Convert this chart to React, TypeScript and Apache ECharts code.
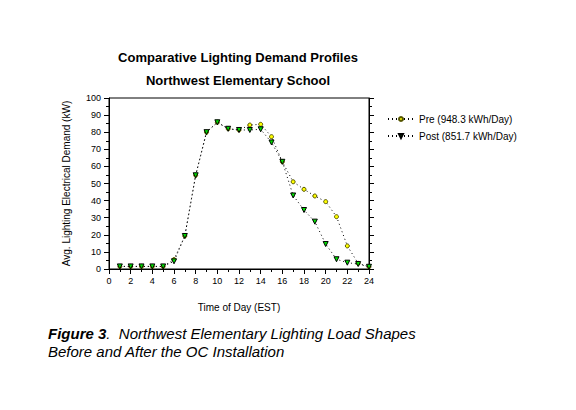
import React, { useEffect, useRef } from "react";
import * as echarts from "echarts";

const hours = [1, 2, 3, 4, 5, 6, 7, 8, 9, 10, 11, 12, 13, 14, 15, 16, 17, 18, 19, 20, 21, 22, 23, 24];
const preValues = [1.5, 1.5, 1.5, 1.5, 1.5, 5.5, 19.3, 54.8, 80, 85.8, 82, 81.3, 84.2, 84.6, 77.4, 62.7, 51, 46.6, 42.7, 39.4, 30.6, 13.5, 3.3, 1.3];
const postValues = [1.5, 1.5, 1.5, 1.5, 1.5, 4.5, 19.3, 54.8, 80, 85.8, 82, 81.3, 81.3, 81.7, 74, 62.7, 43, 34.5, 27.7, 14.6, 5.7, 3.7, 2.9, 1.3];
const seriesNames = ["Pre (948.3 kWh/Day)", "Post (851.7 kWh/Day)"];
const titleLines = ["Comparative Lighting Demand Profiles", "Northwest Elementary School"];
const xTitle = "Time of Day (EST)";
const yTitle = "Avg. Lighting Electrical Demand (kW)";
const captionBold = "Figure 3";
const captionLine1 = ".  Northwest Elementary Lighting Load Shapes";
const captionLine2 = "Before and After the OC Installation";

const FONT = "'Liberation Sans', Arial, sans-serif";

export default function App() {
  const ref = useRef<HTMLDivElement>(null);
  useEffect(() => {
    document.body.style.margin = "0";
    const chart = echarts.init(ref.current!, null, { renderer: "svg" });
    const axisCommon = {
      axisLine: { show: true, lineStyle: { color: "#000", width: 1 } },
      axisTick: { show: true, inside: false, length: 5, lineStyle: { color: "#000" } },
      minorTick: { show: true, splitNumber: 2, length: 3, lineStyle: { color: "#000" } },
      splitLine: { show: false },
    };
    chart.setOption({
      animation: false,
      backgroundColor: "#fff",
      textStyle: { fontFamily: FONT },
      grid: { left: 109, right: 207, top: 98, bottom: 141, show: true, borderColor: "#000", borderWidth: 1 },
      xAxis: {
        type: "value",
        min: 0,
        max: 24,
        interval: 2,
        name: xTitle,
        nameLocation: "middle",
        nameGap: 33,
        nameTextStyle: { fontSize: 10, color: "#000", fontFamily: FONT },
        axisLabel: { fontSize: 9, color: "#000", margin: 7, fontFamily: FONT },
        ...axisCommon,
      },
      yAxis: [
        {
          type: "value",
          min: 0,
          max: 100,
          interval: 10,
          name: yTitle,
          nameLocation: "middle",
          nameGap: 38,
          nameTextStyle: { fontSize: 10, color: "#000", fontFamily: FONT },
          axisLabel: { fontSize: 9, color: "#000", margin: 8, fontFamily: FONT },
          ...axisCommon,
        },
        {
          type: "value",
          position: "right",
          min: 0,
          max: 100,
          interval: 10,
          axisLabel: { show: false },
          ...axisCommon,
        },
      ],
      legend: {
        orient: "vertical",
        left: 382,
        top: 109,
        itemWidth: 26,
        itemHeight: 5,
        itemGap: 7,
        textStyle: { fontSize: 10, color: "#000", fontFamily: FONT },
        data: seriesNames,
      },
      title: [
        { text: titleLines[0], left: 233, top: 46, textAlign: "center", textStyle: { fontSize: 13, fontWeight: "bold", color: "#000", fontFamily: FONT } },
        { text: titleLines[1], left: 233, top: 69, textAlign: "center", textStyle: { fontSize: 13, fontWeight: "bold", color: "#000", fontFamily: FONT } },
      ],
      series: [
        {
          name: seriesNames[0],
          type: "line",
          data: hours.map((h, i) => [h, preValues[i]]),
          symbol: "circle",
          symbolSize: 4,
          lineStyle: { color: "#000", width: 1, type: [1, 3] },
          itemStyle: { color: "#ffff00", borderColor: "#555500", borderWidth: 1 },
          z: 3,
        },
        {
          name: seriesNames[1],
          type: "line",
          data: hours.map((h, i) => [h, postValues[i]]),
          symbol: "triangle",
          symbolRotate: 180,
          symbolSize: 5,
          lineStyle: { color: "#000", width: 1, type: [1, 3] },
          itemStyle: { color: "#00dd00", borderColor: "#000", borderWidth: 1 },
          z: 4,
        },
      ],
      graphic: [
        {
          type: "text",
          left: 48,
          top: 326,
          style: {
            text: "{b|" + captionBold + "}{i|" + captionLine1 + "}\n{i|" + captionLine2 + "}",
            rich: {
              b: { fontSize: 15, fontStyle: "italic", fontWeight: "bold", fontFamily: FONT, fill: "#000", lineHeight: 18 },
              i: { fontSize: 15, fontStyle: "italic", fontFamily: FONT, fill: "#000", lineHeight: 18 },
            },
          },
        },
      ],
    });
    return () => chart.dispose();
  }, []);
  return <div ref={ref} style={{ width: 576, height: 410 }} />;
}
